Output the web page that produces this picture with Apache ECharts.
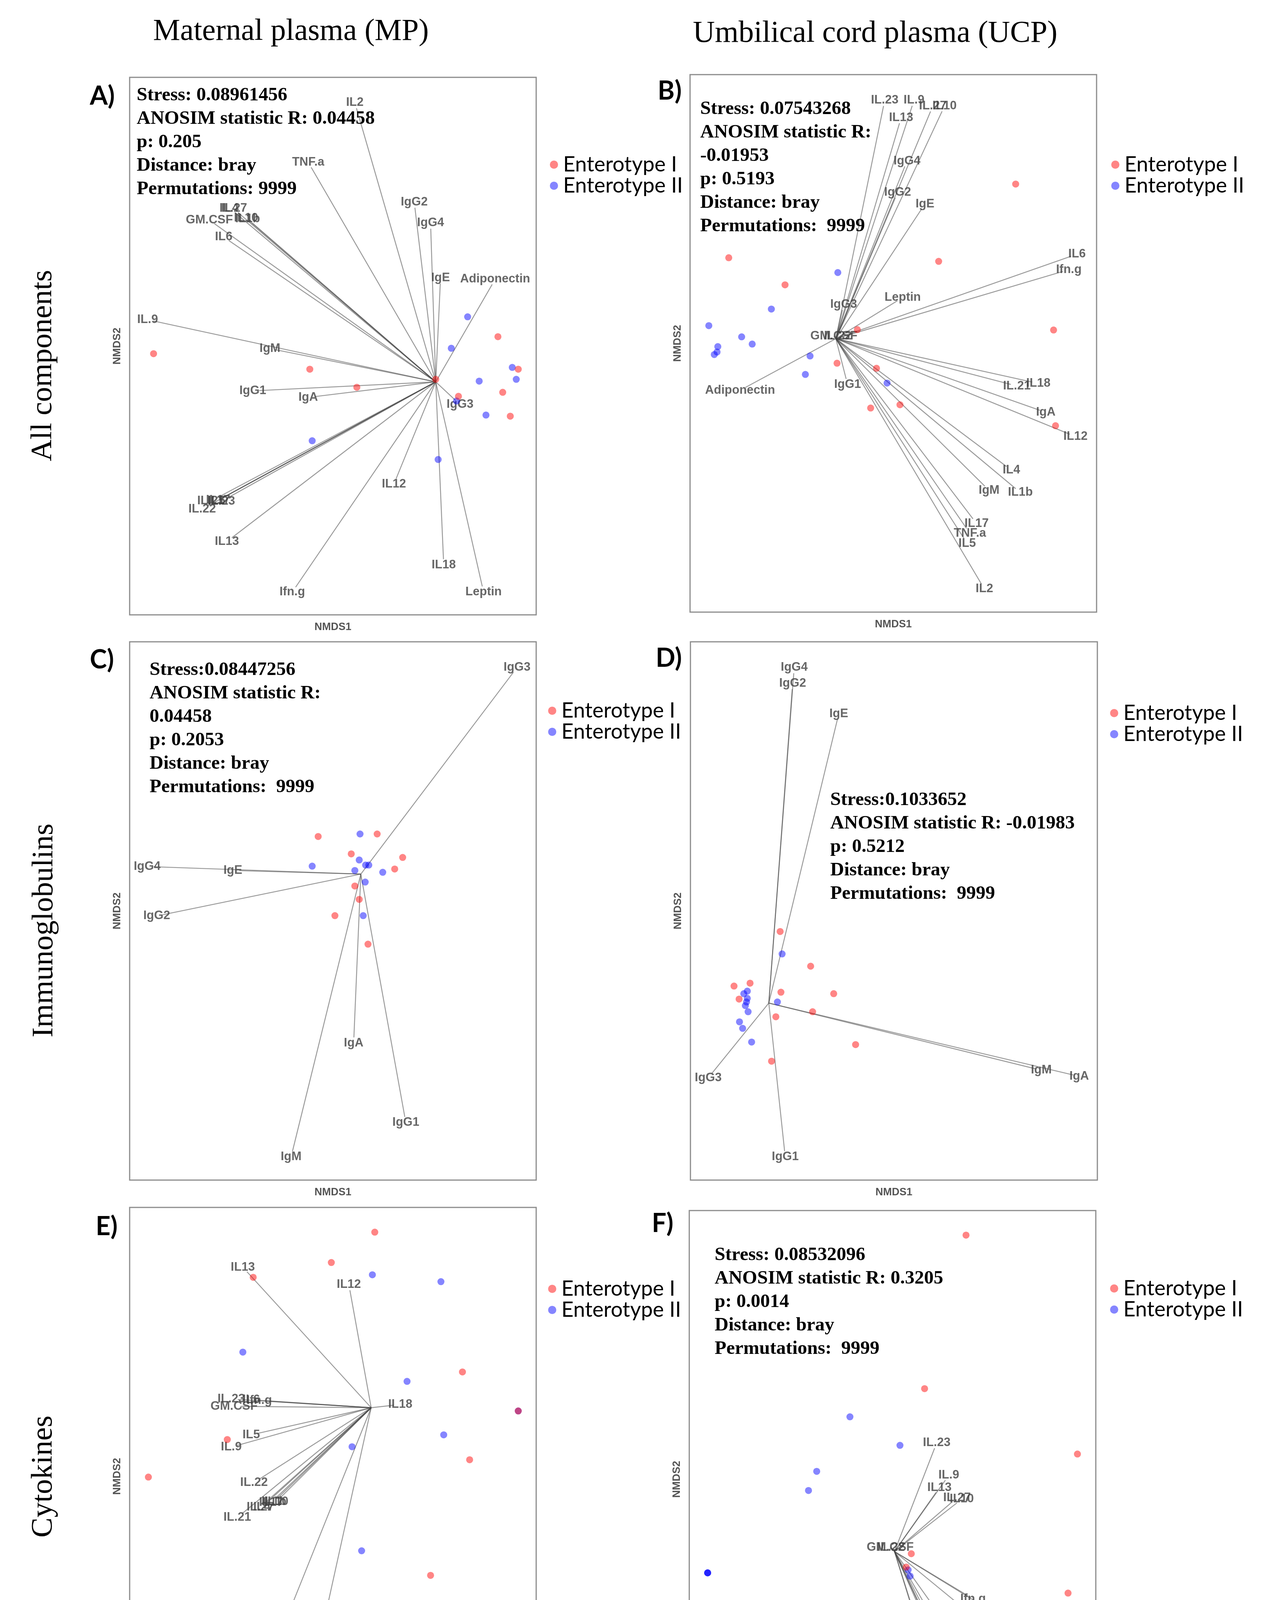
<!DOCTYPE html>
<html>
<head>
<meta charset="utf-8">
<script src="https://cdn.jsdelivr.net/npm/echarts@6/dist/echarts.min.js"></script>
<style>html,body{margin:0;padding:0;background:#fff}#c{width:3270px;height:6025px}</style>
</head>
<body>
<div id="c"></div>
<script>
// ---------------- DATA (NMDS scores) ----------------
const groupNames = ['Enterotype I', 'Enterotype II'];
const columnTitles = ['Maternal plasma (MP)', 'Umbilical cord plasma (UCP)'];
const rowTitles = ['All components', 'Immunoglobulins', 'Cytokines', 'Adipokines'];
const panelLetters = ['A)', 'B)', 'C)', 'D)', 'E)', 'F)', 'G)', 'H)'];

// A) MP, all components
const A_red = [[-0.450,-0.021],[-0.058,-0.064],[0.060,-0.114],[0.258,-0.092],[0.414,0.026],[0.465,-0.064],[0.426,-0.128],[0.315,-0.139],[0.445,-0.194]];
const A_blue = [[0.338,0.081],[0.297,-0.006],[0.450,-0.059],[0.367,-0.097],[0.460,-0.092],[0.310,-0.152],[0.384,-0.191],[-0.052,-0.262],[0.264,-0.314]];
const A_origin = [0.258, -0.099];
const A_vectors = [
  ['IL2',0.055,0.674],['TNF.a',-0.062,0.509],['IL4',-0.258,0.381],['IL.27',-0.250,0.381],
  ['GM.CSF',-0.310,0.349],['IL10',-0.218,0.354],['IL1b',-0.214,0.352],['IL6',-0.274,0.302],
  ['IgG2',0.204,0.399],['IgG4',0.245,0.341],['IgE',0.270,0.189],['Adiponectin',0.407,0.185],
  ['IL.9',-0.465,0.073],['IgM',-0.158,-0.007],['IgG1',-0.201,-0.124],['IgA',-0.062,-0.142],
  ['IgG3',0.319,-0.162],['IL12',0.153,-0.382],['IL18',0.278,-0.606],['Leptin',0.378,-0.681],
  ['Ifn.g',-0.102,-0.681],['IL13',-0.266,-0.541],['IL.22',-0.328,-0.451],['IL.21',-0.306,-0.429],
  ['IL5',-0.292,-0.429],['IL.23',-0.280,-0.430],['IL17',-0.288,-0.427]
];
const A_stats = ['Stress: 0.08961456','ANOSIM statistic R: 0.04458','p: 0.205','Distance: bray','Permutations: 9999'];

// B) UCP, all components
const B_red = [[-0.421,0.237],[-0.277,0.162],[0.116,0.227],[0.313,0.441],[0.410,0.037],[-0.092,0.038],[-0.144,-0.055],[-0.043,-0.069],[0.017,-0.170],[-0.058,-0.179],[0.415,-0.228]];
const B_blue = [[-0.142,0.196],[-0.312,0.095],[-0.472,0.049],[-0.388,0.018],[-0.361,-0.002],[-0.449,-0.009],[-0.451,-0.024],[-0.458,-0.031],[-0.213,-0.035],[-0.225,-0.086],[-0.016,-0.110]];
const B_origin = [-0.147, 0.013];
const B_vectors = [
  ['IL.23',-0.022,0.673],['IL.9',0.053,0.673],['IL.27',0.101,0.657],['IL10',0.131,0.657],
  ['IL13',0.020,0.625],['IgG4',0.035,0.505],['IgG2',0.011,0.418],['IgE',0.081,0.386],
  ['IL6',0.470,0.247],['Ifn.g',0.449,0.204],['Leptin',0.024,0.127],['IgG3',-0.127,0.108],
  ['GM.CSF',-0.152,0.020],['IL.22',-0.142,0.020],['Adiponectin',-0.392,-0.130],['IgG1',-0.117,-0.114],
  ['IL.21',0.316,-0.118],['IL18',0.371,-0.111],['IgA',0.390,-0.191],['IL12',0.466,-0.258],
  ['IL4',0.302,-0.351],['IgM',0.245,-0.407],['IL1b',0.325,-0.413],['IL17',0.213,-0.499],
  ['TNF.a',0.196,-0.526],['IL5',0.189,-0.554],['IL2',0.233,-0.680]
];
const B_stats = ['Stress: 0.07543268','ANOSIM statistic R:','-0.01953','p: 0.5193','Distance: bray','Permutations:  9999'];

// C) MP, immunoglobulins
const C_red = [[-0.037,0.206],[0.111,0.213],[0.046,0.158],[0.175,0.148],[0.155,0.116],[0.055,0.069],[0.066,0.032],[0.005,-0.013],[0.088,-0.092]];
const C_blue = [[0.068,0.213],[-0.052,0.124],[0.066,0.141],[0.082,0.127],[0.090,0.127],[0.055,0.112],[0.125,0.107],[0.081,0.080],[0.076,-0.013]];
const C_origin = [0.070, 0.102];
const C_vectors = [['IgG3',0.462,0.674],['IgG4',-0.466,0.123],['IgE',-0.251,0.112],['IgG2',-0.442,-0.014],['IgA',0.052,-0.366],['IgG1',0.183,-0.586],['IgM',-0.105,-0.681]];
const C_stats = ['Stress:0.08447256','ANOSIM statistic R:','0.04458','p: 0.2053','Distance: bray','Permutations:  9999'];

// D) UCP, immunoglobulins
const D_red = [[-0.291,-0.057],[-0.213,-0.153],[-0.409,-0.208],[-0.368,-0.200],[-0.396,-0.244],[-0.289,-0.225],[-0.154,-0.229],[-0.208,-0.279],[-0.302,-0.293],[-0.098,-0.370],[-0.313,-0.416]];
const D_blue = [[-0.286,-0.119],[-0.384,-0.229],[-0.375,-0.222],[-0.375,-0.242],[-0.380,-0.262],[-0.377,-0.252],[-0.373,-0.279],[-0.298,-0.252],[-0.395,-0.307],[-0.387,-0.325],[-0.364,-0.363]];
const D_origin = [-0.320, -0.255];
const D_vectors = [['IgG4',-0.255,0.674],['IgG2',-0.259,0.630],['IgE',-0.141,0.546],['IgM',0.377,-0.441],['IgA',0.474,-0.458],['IgG3',-0.475,-0.462],['IgG1',-0.278,-0.681]];
const D_stats = ['Stress:0.1033652','ANOSIM statistic R: -0.01983','p: 0.5212','Distance: bray','Permutations:  9999'];

// E) MP, cytokines
const E_red = [[0.105,0.676],[-0.004,0.592],[-0.200,0.551],[0.325,0.289],[0.465,0.181],[-0.265,0.102],[0.343,0.046],[-0.463,-0.002],[0.245,-0.274]];
const E_blue = [[0.099,0.558],[0.271,0.539],[-0.226,0.344],[0.186,0.263],[0.278,0.115],[0.048,0.082],[0.072,-0.206],[0.005,-0.621],[0.465,0.181]];
const E_origin = [0.096, 0.190];
const E_vectors = [
  ['IL13',-0.226,0.579],['IL12',0.040,0.531],['IL18',0.169,0.199],['IL.23',-0.255,0.214],
  ['IL6',-0.205,0.212],['Ifn.g',-0.185,0.210],['GM.CSF',-0.248,0.194],['IL5',-0.205,0.115],
  ['IL.9',-0.255,0.081],['IL.22',-0.198,-0.017],['IL1b',-0.148,-0.070],['IL10',-0.142,-0.070],
  ['IL4',-0.178,-0.085],['IL.27',-0.182,-0.085],['IL17',-0.155,-0.072],['IL.21',-0.240,-0.114],
  ['TNF.a',-0.105,-0.362],['IL2',-0.078,-0.680]
];
const E_stats = ['Stress:0.1265666','ANOSIM statistic R:','-0.005144','p: 0.4227','Distance: bray','Permutations: 9999'];

// F) UCP, cytokines
const F_red = [[0.188,0.676],[0.082,0.251],[0.473,0.070],[0.048,-0.206],[0.035,-0.243],[0.449,-0.315],[0.175,-0.406],[0.195,-0.459],[0.177,-0.473],[0.342,-0.536],[-0.043,-0.677]];
const F_blue = [[-0.109,0.173],[0.019,0.094],[-0.194,0.022],[-0.215,-0.031],[-0.473,-0.259],[-0.473,-0.259],[-0.473,-0.259],[0.040,-0.251],[0.045,-0.268],[0.171,-0.440]];
const F_origin = [0.005, -0.200];
const F_vectors = [
  ['IL.23',0.113,0.101],['IL.9',0.144,0.011],['IL13',0.120,-0.023],['IL.27',0.165,-0.051],
  ['IL10',0.177,-0.055],['GM.CSF',-0.006,-0.189],['IL.22',-0.004,-0.189],['Ifn.g',0.206,-0.331],
  ['IL6',0.200,-0.373],['IL12',0.265,-0.373],['IL.21',0.110,-0.398],['IL4',0.142,-0.408],
  ['TNF.a',0.121,-0.463],['IL5',0.120,-0.480],['IL17',0.150,-0.503],['IL18',0.103,-0.543],
  ['IL1b',0.113,-0.568],['IL2',0.172,-0.585]
];
const F_stats = ['Stress: 0.08532096','ANOSIM statistic R: 0.3205','p: 0.0014','Distance: bray','Permutations:  9999'];

// G) MP, adipokines
const G_red = [[-0.302,0.644],[0.249,0.493],[-0.126,0.377],[-0.041,0.386],[-0.209,0.313],[-0.130,0.281],[0.384,0.276],[0.210,0.210],[-0.030,0.137]];
const G_blue = [[0.465,0.535],[-0.073,0.398],[-0.060,0.274],[0.077,0.224],[0.142,0.240],[0.092,0.160],[-0.346,0.056],[-0.463,-0.031],[0.240,-0.644]];
const G_stats = ['Stress:0','ANOSIM statistic R: 0.04458','p: 0.2006','Distance: bray','Permutations:  9999'];

// H) UCP, adipokines
const H_red = [[-0.267,0.645],[-0.003,0.518],[0.095,0.455],[-0.041,0.436],[0.095,0.354],[0.473,0.366],[0.115,0.216],[0.266,0.212],[0.210,0.118],[0.384,-0.370],[-0.473,-0.645]];
const H_blue = [[-0.049,0.645],[-0.222,0.549],[-0.132,0.539],[-0.141,0.518],[-0.110,0.450],[-0.316,0.400],[-0.185,0.274],[0.117,0.251],[0.131,0.258],[0.200,0.189],[-0.384,-0.075]];
const H_stats = ['Stress:0','ANOSIM statistic R: -0.01548','p: 0.4853','Distance: bray','Permutations:  9999'];

// ---------------- LAYOUT / STYLE ----------------
const RED = 'rgba(255,0,0,0.6)';
const BLUE = 'rgba(0,0,255,0.6)';
const LIGHTBLUE = 'rgba(60,135,185,0.65)';
const GAP = 0.016;

const panels = [
  {red:A_red, blue:A_blue, origin:A_origin, vectors:A_vectors, stats:A_stats, grid:[332,198,1041,1376], xr:0.510, yr:0.744, letter:[230,247], legend:[1408,394.5], statPos:[350,214]},
  {red:B_red, blue:B_blue, origin:B_origin, vectors:B_vectors, stats:B_stats, grid:[1767,191,1041,1376], xr:0.520, yr:0.744, letter:[1684,234], legend:[2845.5,394.5], statPos:[1793,249.5]},
  {red:C_red, blue:C_blue, origin:C_origin, vectors:C_vectors, stats:C_stats, grid:[332,1643,1041,1378], xr:0.510, yr:0.745, letter:[230,1690], legend:[1403.5,1792.5], statPos:[383,1685]},
  {red:D_red, blue:D_blue, origin:D_origin, vectors:D_vectors, stats:D_stats, grid:[1768,1643,1042,1378], xr:0.5205, yr:0.745, letter:[1679,1686], legend:[2842.5,1798.5], statPos:[2126,2018]},
  {red:E_red, blue:E_blue, origin:E_origin, vectors:E_vectors, stats:E_stats, grid:[332,3091,1041,1377], xr:0.510, yr:0.7445, letter:[245,3141], legend:[1403.5,3272.5], statPos:[903,4093], lh:59},
  {red:F_red, blue:F_blue, origin:F_origin, vectors:F_vectors, stats:F_stats, grid:[1765,3099,1041,1376], xr:0.520, yr:0.744, letter:[1669,3133], legend:[2842.5,3271.5], statPos:[1830,3183]},
  {red:G_red, blue:G_blue, stats:G_stats, grid:[332,4539,1041,1376], xr:0.510, yr:0.708, letter:[242,4576], legend:[1403.5,4726.5], statPos:[446,5407]},
  {red:H_red, blue:H_blue, blueColor:LIGHTBLUE, stats:H_stats, grid:[1756,4543,1041,1377], xr:0.520, yr:0.708, letter:[1664,4581], legend:[2827.5,4739.5], statPos:[1886,5484]}
];

const grids = [], xAxes = [], yAxes = [], series = [], legends = [], graphics = [];
const axisNameStyle = {fontFamily:'Liberation Sans', fontWeight:'bold', fontSize:27, color:'#555'};

panels.forEach((p, i) => {
  grids.push({left:p.grid[0], top:p.grid[1], width:p.grid[2], height:p.grid[3], show:true,
    borderColor:'#8c8c8c', borderWidth:3, backgroundColor:'rgba(0,0,0,0)', containLabel:false, outerBoundsMode:'none'});
  const common = {gridIndex:i, type:'value', axisLine:{show:false}, axisTick:{show:false}, axisLabel:{show:false}, splitLine:{show:false}, nameLocation:'middle', nameTextStyle:axisNameStyle};
  xAxes.push(Object.assign({}, common, {min:-p.xr, max:p.xr, name:'NMDS1', nameGap:18}));
  yAxes.push(Object.assign({}, common, {min:-p.yr, max:p.yr, name:'NMDS2', nameGap:18}));

  if (p.vectors) {
    const o = p.origin;
    series.push({
      type:'lines', coordinateSystem:'cartesian2d', xAxisIndex:i, yAxisIndex:i, silent:true, z:2,
      lineStyle:{color:'rgba(70,70,70,0.55)', width:2.4, opacity:1, curveness:0},
      data:p.vectors.map(v => {
        const dx = v[1]-o[0], dy = v[2]-o[1], L = Math.hypot(dx,dy);
        const f = L > GAP*2 ? (L-GAP)/L : 1;
        return {coords:[[o[0],o[1]],[o[0]+dx*f, o[1]+dy*f]]};
      })
    });
    series.push({
      type:'scatter', xAxisIndex:i, yAxisIndex:i, silent:true, z:3, symbolSize:1,
      itemStyle:{color:'rgba(0,0,0,0)'},
      label:{show:true, position:'inside', formatter:'{b}', color:'#414141', fontFamily:'Liberation Sans', fontWeight:'bold', fontSize:31},
      data:p.vectors.map(v => ({name:v[0], value:[v[1], v[2]]}))
    });
  }
  series.push({name:groupNames[1], type:'scatter', xAxisIndex:i, yAxisIndex:i, z:4, symbolSize:18,
    itemStyle:{color:p.blueColor || BLUE}, data:p.blue});
  series.push({name:groupNames[0], type:'scatter', xAxisIndex:i, yAxisIndex:i, z:5, symbolSize:18,
    itemStyle:{color:RED}, data:p.red});

  legends.push({
    left:p.legend[0], top:p.legend[1], orient:'vertical', itemGap:0, itemWidth:21, itemHeight:21, padding:0,
    icon:'circle', selectedMode:false,
    textStyle:{fontFamily:'Lato', fontSize:54, lineHeight:51, color:'#000', padding:[0,0,0,8]},
    data:[{name:groupNames[0], itemStyle:{color:RED}}, {name:groupNames[1], itemStyle:{color:BLUE}}]
  });

  graphics.push({type:'text', x:p.letter[0], y:p.letter[1], z:10,
    style:{text:panelLetters[i], font:'bold 66px Lato', fill:'#000', textAlign:'left', textVerticalAlign:'middle', align:'left', verticalAlign:'middle'}});
  graphics.push({type:'text', x:p.statPos[0], y:p.statPos[1], z:10,
    style:{text:p.stats.join('\n'), font:'bold 49px "Liberation Serif"', lineHeight:p.lh || 60, fill:'#000', textAlign:'left', textVerticalAlign:'top', align:'left', verticalAlign:'top'}});
});

// column and row titles
[[745, 82], [2241, 87]].forEach((pos, k) => {
  graphics.push({type:'text', x:pos[0], y:pos[1],
    style:{text:columnTitles[k], font:'78px "Liberation Serif"', fill:'#000', textAlign:'center', textVerticalAlign:'middle', align:'center', verticalAlign:'middle'}});
});
[[111, 936], [114, 2382], [112, 3780], [117, 5173]].forEach((pos, k) => {
  graphics.push({type:'text', x:pos[0], y:pos[1], rotation:Math.PI/2,
    style:{text:rowTitles[k], font:'77px "Liberation Serif"', fill:'#000', textAlign:'center', textVerticalAlign:'middle', align:'center', verticalAlign:'middle'}});
});

const chart = echarts.init(document.getElementById('c'), null, {renderer:'canvas'});
chart.setOption({
  backgroundColor:'#ffffff',
  animation:false,
  grid:grids, xAxis:xAxes, yAxis:yAxes, series:series, legend:legends,
  graphic:{elements:graphics}
});
</script>
</body>
</html>
